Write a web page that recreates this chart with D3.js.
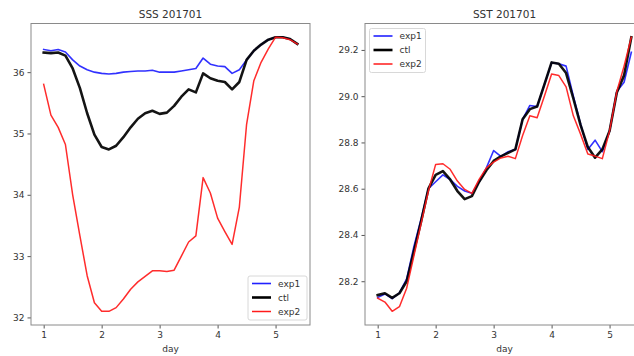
<!DOCTYPE html>
<html>
<head>
<meta charset="utf-8">
<script src="https://cdn.jsdelivr.net/npm/d3@7"></script>
<style>
  html, body { margin: 0; padding: 0; background: #fff; }
  svg { display: block; font-family: "DejaVu Sans", sans-serif; }
</style>
</head>
<body>
<svg id="chart" width="634" height="356"></svg>
<script>
// Time axis: 3-hourly samples from day 1 to day 5.375
const days = d3.range(36).map(i => 1 + i * 0.125);
const xTicks = [1, 2, 3, 4, 5];

// Sea surface salinity (SSS)
const sssExp1 = [36.37, 36.35, 36.37, 36.33, 36.20, 36.10, 36.04, 36.00, 35.98, 35.97,
  35.98, 36.00, 36.01, 36.02, 36.02, 36.03, 36.00, 36.00, 36.00, 36.02,
  36.04, 36.06, 36.23, 36.13, 36.10, 36.09, 35.98, 36.04, 36.20, 36.35,
  36.45, 36.53, 36.57, 36.57, 36.54, 36.46];
const sssCtl = [36.32, 36.31, 36.32, 36.27, 36.06, 35.74, 35.33, 34.98, 34.78, 34.74,
  34.80, 34.94, 35.10, 35.24, 35.33, 35.37, 35.32, 35.34, 35.45, 35.60,
  35.72, 35.67, 35.98, 35.90, 35.86, 35.84, 35.72, 35.84, 36.20, 36.35,
  36.45, 36.53, 36.57, 36.57, 36.54, 36.46];
const sssExp2 = [35.80, 35.30, 35.10, 34.82, 34.00, 33.33, 32.68, 32.24, 32.10, 32.10,
  32.16, 32.30, 32.46, 32.58, 32.67, 32.76, 32.76, 32.75, 32.77, 33.00,
  33.23, 33.33, 34.28, 34.03, 33.62, 33.40, 33.19, 33.80, 35.15, 35.86,
  36.16, 36.38, 36.57, 36.56, 36.53, 36.46];
const sssTicks = [32, 33, 34, 35, 36];

// Sea surface temperature (SST)
const sstExp1 = [28.13, 28.145, 28.125, 28.15, 28.21, 28.35, 28.47, 28.60, 28.63, 28.66,
  28.64, 28.61, 28.59, 28.58, 28.63, 28.69, 28.765, 28.74, 28.76, 28.77,
  28.90, 28.96, 28.955, 29.05, 29.145, 29.14, 29.13, 29.00, 28.88, 28.77,
  28.81, 28.76, 28.85, 29.02, 29.06, 29.19];
const sstCtl = [28.14, 28.148, 28.128, 28.148, 28.20, 28.33, 28.46, 28.60, 28.66, 28.676,
  28.64, 28.59, 28.555, 28.568, 28.63, 28.68, 28.72, 28.74, 28.755, 28.77,
  28.90, 28.944, 28.955, 29.05, 29.146, 29.14, 29.10, 28.99, 28.875, 28.78,
  28.734, 28.77, 28.85, 29.016, 29.09, 29.255];
const sstExp2 = [28.127, 28.11, 28.07, 28.09, 28.17, 28.31, 28.45, 28.59, 28.705, 28.708,
  28.684, 28.633, 28.597, 28.58, 28.64, 28.69, 28.715, 28.733, 28.74, 28.73,
  28.83, 28.915, 28.907, 29.00, 29.096, 29.089, 29.04, 28.915, 28.836, 28.75,
  28.741, 28.73, 28.85, 29.02, 29.13, 29.255];
const sstTicks = [28.2, 28.4, 28.6, 28.8, 29.0, 29.2];

const seriesNames = ["exp1", "ctl", "exp2"];
const seriesStyle = {
  exp1: { color: "#2020ff", width: 1.6 },
  ctl:  { color: "#000000", width: 2.6 },
  exp2: { color: "#ff1a1a", width: 1.5 }
};

const svg = d3.select("#chart");

// Pad a domain by 5% on each side, like the default matplotlib margins
function padded(values) {
  const [lo, hi] = d3.extent(values);
  const m = (hi - lo) * 0.05;
  return [lo - m, hi + m];
}

function panel(opts) {
  const { left, right, top, bottom, title, series, yTicks, yFormat, legend } = opts;
  const g = svg.append("g");

  const x = d3.scaleLinear().domain(padded(days)).range([left, right]);
  const y = d3.scaleLinear().domain(padded(series.flat())).range([bottom, top]);

  // Lines
  const line = d3.line().x((d, i) => x(days[i])).y(d => y(d));
  seriesNames.forEach((name, k) => {
    g.append("path")
      .datum(series[k])
      .attr("fill", "none")
      .attr("stroke", seriesStyle[name].color)
      .attr("stroke-width", seriesStyle[name].width)
      .attr("stroke-linejoin", "round")
      .attr("stroke-linecap", "square")
      .attr("opacity", 0.92)
      .attr("d", line);
  });

  // Axes
  const xAxis = g.append("g")
    .attr("transform", `translate(0,${bottom})`)
    .call(d3.axisBottom(x).tickValues(xTicks).tickFormat(d3.format("d")).tickSizeOuter(0).tickSize(3.5).tickPadding(3));
  const yAxis = g.append("g")
    .attr("transform", `translate(${left},0)`)
    .call(d3.axisLeft(y).tickValues(yTicks).tickFormat(yFormat).tickSizeOuter(0).tickSize(3.5).tickPadding(3));
  [xAxis, yAxis].forEach(a => {
    a.select(".domain").remove();
    a.selectAll(".tick line").attr("stroke", "#555");
    a.selectAll(".tick text").attr("fill", "#333").attr("font-size", 9)
      .attr("font-family", "DejaVu Sans, sans-serif");
  });

  // Frame
  g.append("rect")
    .attr("x", left).attr("y", top)
    .attr("width", right - left).attr("height", bottom - top)
    .attr("fill", "none").attr("stroke", "#8a8a8a").attr("stroke-width", 1);

  // Title and axis label
  g.append("text")
    .attr("x", (left + right) / 2).attr("y", top - 6)
    .attr("text-anchor", "middle").attr("font-size", 10.5).attr("fill", "#333")
    .text(title);
  g.append("text")
    .attr("x", (left + right) / 2).attr("y", bottom + 27)
    .attr("text-anchor", "middle").attr("font-size", 9).attr("fill", "#333")
    .text("day");

  // Legend
  const lg = g.append("g").attr("transform", `translate(${legend.x},${legend.y})`);
  lg.append("rect")
    .attr("width", legend.w).attr("height", 44).attr("rx", 2)
    .attr("fill", "#fff").attr("fill-opacity", 0.85)
    .attr("stroke", "#d8d8d8").attr("stroke-width", 1);
  seriesNames.forEach((name, k) => {
    const yy = 7.5 + k * 14;
    lg.append("line")
      .attr("x1", 4).attr("x2", 23).attr("y1", yy).attr("y2", yy)
      .attr("stroke", seriesStyle[name].color)
      .attr("stroke-width", seriesStyle[name].width);
    lg.append("text")
      .attr("x", 30).attr("y", yy + 3.3)
      .attr("font-size", 9).attr("fill", "#333")
      .text(name);
  });
}

panel({
  left: 31, right: 310, top: 23.5, bottom: 325,
  title: "SSS 201701",
  series: [sssExp1, sssCtl, sssExp2],
  yTicks: sssTicks, yFormat: d3.format("d"),
  legend: { x: 248, y: 276, w: 59 }
});

panel({
  left: 365, right: 644, top: 23.5, bottom: 325,
  title: "SST 201701",
  series: [sstExp1, sstCtl, sstExp2],
  yTicks: sstTicks, yFormat: d3.format(".1f"),
  legend: { x: 369.5, y: 28.5, w: 56 }
});
</script>
</body>
</html>
